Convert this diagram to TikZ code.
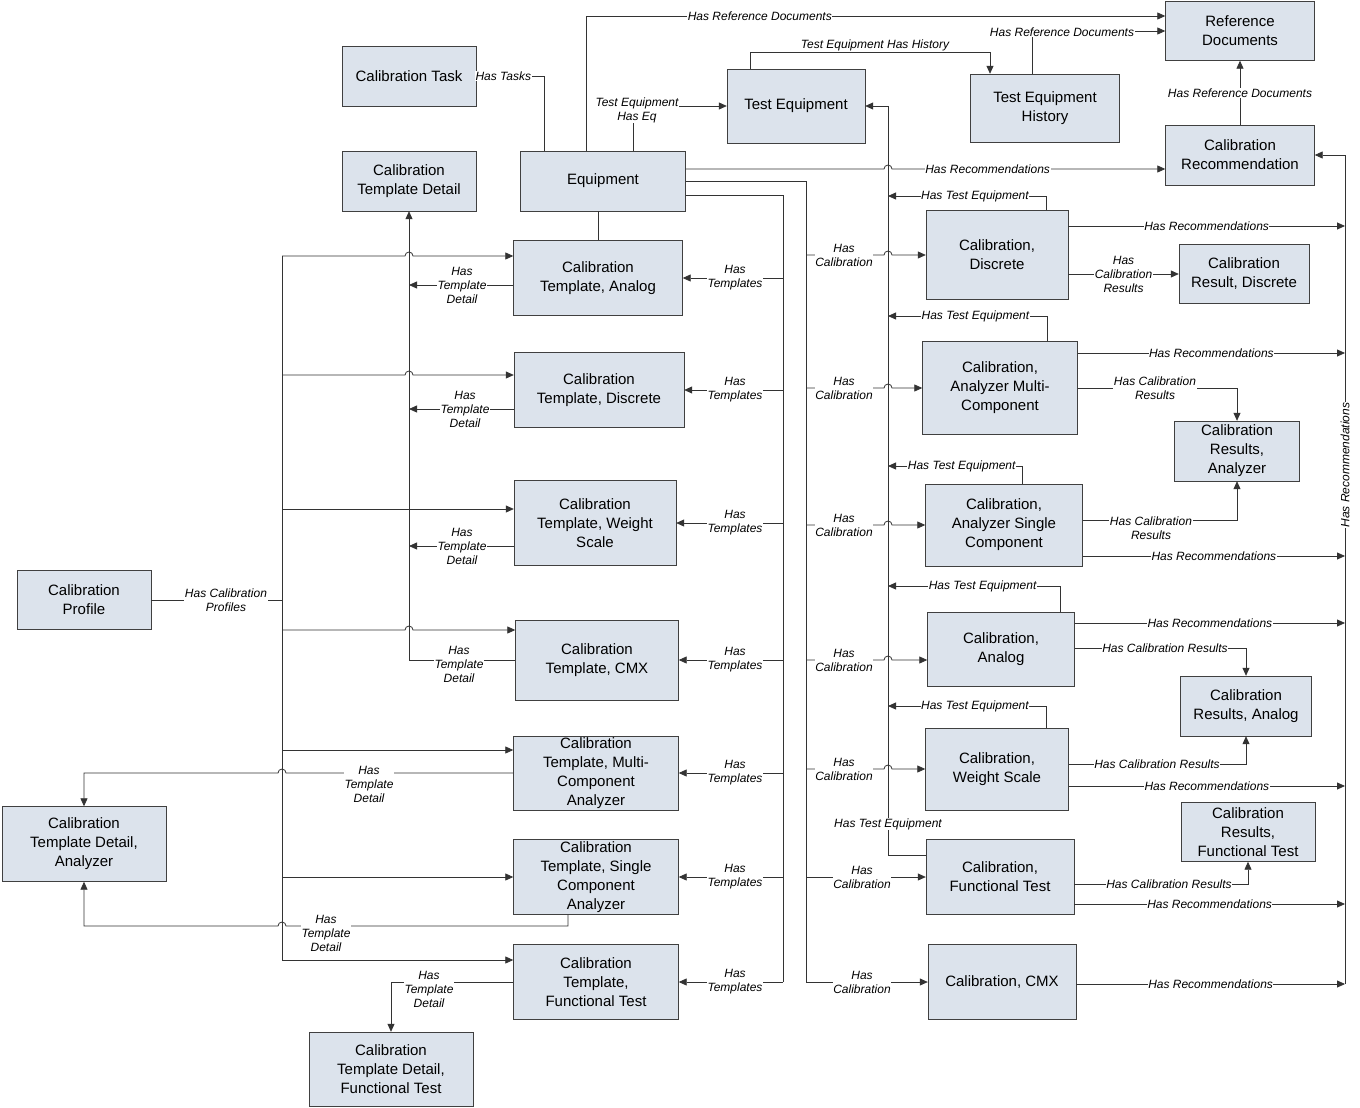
\documentclass[tikz,border=0pt]{standalone}
\usepackage{fontspec}
\setmainfont{Liberation Sans}
\usetikzlibrary{arrows.meta}
\begin{document}
\begin{tikzpicture}[x=1pt,y=-1pt,
 box/.style={draw=black!75,fill={rgb,255:red,220;green,227;blue,236},align=center,font=\fontsize{15}{19}\selectfont,inner sep=1pt},
 ln/.style={draw=black!80,line width=0.8pt},
 ar/.style={ln,-{Triangle[length=8pt,width=7pt]}},
 lb/.style={fill=white,inner sep=0.5pt,font=\fontsize{12}{14}\selectfont\itshape,align=center},
 J/.style={}]
\useasboundingbox (0,0) rectangle (1360,1108);
\newcommand\bx[6]{\node[box,minimum width=#4pt,minimum height=#5pt] (#1) at (#2,#3) {#6};}
\bx{task}{409}{76}{134}{60}{Calibration Task}
\bx{ctd}{409}{181}{134}{60}{Calibration\\Template Detail}
\bx{eq}{603}{181}{165}{60}{Equipment}
\bx{te}{796}{106}{138}{74}{Test Equipment}
\bx{teh}{1045}{108}{149}{68}{Test Equipment\\History}
\bx{ref}{1240}{31}{149}{59}{Reference\\Documents}
\bx{rec}{1240}{155}{149}{60}{Calibration\\Recommendation}
\bx{ta}{598}{278}{169}{75}{Calibration\\Template, Analog}
\bx{td}{599}{390}{170}{75}{Calibration\\Template, Discrete}
\bx{tw}{595}{523}{162}{85}{Calibration\\Template, Weight\\Scale}
\bx{tc}{597}{660}{163}{80}{Calibration\\Template, CMX}
\bx{tm}{596}{773}{165}{74}{Calibration\\Template, Multi-\\Component\\Analyzer}
\bx{ts}{596}{877}{165}{75}{Calibration\\Template, Single\\Component\\Analyzer}
\bx{tf}{596}{982}{165}{75}{Calibration\\Template,\\Functional Test}
\bx{prof}{84}{600}{134}{59}{Calibration\\Profile}
\bx{dan}{84}{844}{164}{75}{Calibration\\Template Detail,\\Analyzer}
\bx{dft}{391}{1069}{164}{74}{Calibration\\Template Detail,\\Functional Test}
\bx{cd}{997}{255}{142}{89}{Calibration,\\Discrete}
\bx{rd}{1244}{274}{130}{59}{Calibration\\Result, Discrete}
\bx{cm}{1000}{388}{155}{93}{Calibration,\\Analyzer Multi-\\Component}
\bx{ra}{1237}{451}{125}{60}{Calibration\\Results,\\Analyzer}
\bx{cs}{1004}{525}{157}{82}{Calibration,\\Analyzer Single\\Component}
\bx{ca}{1001}{649}{147}{74}{Calibration,\\Analog}
\bx{ran}{1246}{706}{131}{60}{Calibration\\Results, Analog}
\bx{cw}{997}{769}{143}{82}{Calibration,\\Weight Scale}
\bx{rft}{1248}{832}{134}{59}{Calibration\\Results,\\Functional Test}
\bx{cf}{1000}{877}{148}{75}{Calibration,\\Functional Test}
\bx{cc}{1002}{982}{148}{75}{Calibration, CMX}
% top connectors
\draw[ar] (eq.north -| 544,0) -- (544,76) -- (task.east) node[lb,pos=0.6]{Has Tasks};
\draw[ar] (eq.north -| 586,0) -- (586,16) -- (ref.west |- 0,16) node[lb,pos=0.3]{Has Reference Documents};
\draw[ar] (eq.north -| 633,0) -- (633,106) -- (te.west);
\node[lb] at (637,110) {Test Equipment\\Has Eq};
\draw[ar] (te.north -| 750,0) -- (750,52) -- (990,52) -- (teh.north -| 990,0);
\node[lb] at (875,45) {Test Equipment Has History};
\draw[ar] (teh.north -| 1032,0) -- (1032,31) -- (ref.west |- 0,31);
\node[lb] at (1062,32) {Has Reference Documents};
\draw[ar] (rec.north) -- (ref.south) node[lb,midway]{Has Reference Documents};
\draw[ar] (eq.east |- 0,169) -- (884,169) arc[start angle=180,end angle=360,radius=4] -- (rec.west |- 0,169) node[lb,pos=0.35]{Has Recommendations};
\draw[ln] (eq.south -| 598,0) -- (ta.north -| 598,0);
% templates bus
\draw[ln] (eq.east |- 0,195) -- (783,195) -- (783,982);
\foreach \n/\y in {ta/278,td/390,tw/523,tc/660,tm/773,ts/877,tf/982}{
 \draw[ar] (783,\y) -- (\n.east |- 0,\y);
 \node[lb] at (735,\y) {Has\\Templates};}
% calibrations bus
\draw[ln] (eq.east |- 0,181) -- (806,181) -- (806,982);
\foreach \n/\y in {cd/255,cm/388,cs/525,ca/660,cw/769}{
 \draw[ar] (806,\y) -- (884,\y) arc[start angle=180,end angle=360,radius=4] -- (\n.west |- 0,\y);
 \node[lb] at (844,\y) {Has\\Calibration};}
\foreach \n/\y in {cf/877,cc/982}{
 \draw[ar] (806,\y) -- (\n.west |- 0,\y);
 \node[lb] at (862,\y) {Has\\Calibration};}
% test equipment bus
\draw[ar] (cf.west |- 0,855) -- (888,855) -- (888,106) -- (te.east);
\node[lb] at (888,824) {Has Test Equipment};
\foreach \n/\x/\y in {cd/1046/196,cm/1047/316,cs/1022/466,ca/1060/586,cw/1046/706}{
 \draw[ar] (\n.north -| \x,0) -- (\x,\y) -- (888,\y) node[lb,pos=0.45]{Has Test Equipment};}
% recommendations bus
\draw[ar] (1345,984) -- (1345,155) -- (rec.east);
\node[lb,rotate=90] at (1345,465) {Has Recommendations};
\foreach \n/\y in {cd/226,cm/353,cs/556,ca/623,cw/786,cf/904,cc/984}{
 \draw[ar] (\n.east |- 0,\y) -- (1345,\y) node[lb,midway]{Has Recommendations};}
% results
\draw[ar] (cd.east |- 0,274) -- (rd.west) node[lb,midway]{Has\\Calibration\\Results};
\draw[ar] (cm.east |- 0,388) -- (1237,388) -- (ra.north);
\node[lb] at (1155,388) {Has Calibration\\Results};
\draw[ar] (cs.east |- 0,520) -- (1237,520) -- (ra.south);
\node[lb] at (1151,528) {Has Calibration\\Results};
\draw[ar] (ca.east |- 0,648) -- (1246,648) -- (ran.north -| 1246,0);
\node[lb] at (1165,648) {Has Calibration Results};
\draw[ar] (cw.east |- 0,764) -- (1246,764) -- (ran.south -| 1246,0);
\node[lb] at (1157,764) {Has Calibration Results};
\draw[ar] (cf.east |- 0,884) -- (1248,884) -- (rft.south -| 1248,0);
\node[lb] at (1169,884) {Has Calibration Results};
% profile bus
\draw[ln] (prof.east) -- (282,600);
\node[lb] at (226,600) {Has Calibration\\Profiles};
\draw[ln] (282,256) -- (282,960);
\foreach \n/\y in {ta/256,td/375,tc/630}{
 \draw[ar] (282,\y) -- (405,\y) arc[start angle=180,end angle=360,radius=4] -- (\n.west |- 0,\y);}
\foreach \n/\y in {tw/509,tm/750,ts/877,tf/960}{
 \draw[ar] (282,\y) -- (\n.west |- 0,\y);}
% template detail
\draw[ar] (tc.west) -- (409,660) -- (ctd.south);
\node[lb] at (459,664) {Has\\Template\\Detail};
\foreach \n/\y/\x in {ta/285/462,td/409/465,tw/546/462}{
 \draw[ar] (\n.west |- 0,\y) -- (409,\y);
 \node[lb] at (\x,\y) {Has\\Template\\Detail};}
\draw[ar] (tm.west) -- (286,773) arc[start angle=0,end angle=-180,radius=4] -- (84,773) -- (dan.north);
\node[lb] at (369,784) {Has\\Template\\Detail};
\draw[ar] (ts.south -| 568,0) -- (568,926) -- (286,926) arc[start angle=0,end angle=-180,radius=4] -- (84,926) -- (dan.south);
\node[lb] at (326,933) {Has\\Template\\Detail};
\draw[ar] (tf.west) -- (391,982) -- (dft.north);
\node[lb] at (429,989) {Has\\Template\\Detail};
\end{tikzpicture}
\end{document}
